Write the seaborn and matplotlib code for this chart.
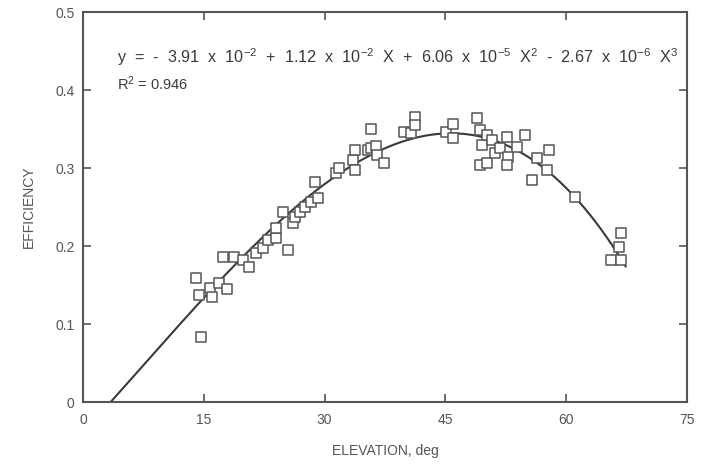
import numpy as np
import pandas as pd
import matplotlib
matplotlib.use("Agg")
import matplotlib.pyplot as plt
import seaborn as sns

# Measured points (elevation deg, efficiency)
elevation = [14.0, 14.7, 14.4, 15.8, 16.0, 16.9, 17.9, 17.4, 18.8, 19.9,
             20.6, 21.5, 22.4, 23.0, 24.0, 24.0, 24.8, 25.5, 26.1, 26.3,
             27.0, 27.6, 28.3, 28.8, 29.2, 31.4, 31.8, 33.5, 33.8, 33.8,
             35.4, 35.7, 35.8, 36.4, 36.5, 37.4, 39.8, 40.7, 41.2, 41.2,
             45.1, 46.0, 46.0, 48.9, 49.3, 49.6, 50.2, 50.8, 49.3, 50.2,
             51.2, 51.8, 52.7, 52.8, 52.7, 53.9, 54.9, 56.4, 57.9, 55.8,
             57.6, 61.1, 66.8, 66.6, 65.6, 66.8]
efficiency = [0.159, 0.083, 0.137, 0.146, 0.135, 0.153, 0.145, 0.186, 0.186, 0.182,
              0.173, 0.191, 0.197, 0.208, 0.210, 0.223, 0.244, 0.195, 0.229, 0.237,
              0.244, 0.250, 0.256, 0.282, 0.262, 0.294, 0.300, 0.310, 0.323, 0.297,
              0.323, 0.350, 0.326, 0.328, 0.317, 0.306, 0.346, 0.345, 0.365, 0.355,
              0.346, 0.356, 0.338, 0.364, 0.349, 0.329, 0.342, 0.336, 0.304, 0.306,
              0.319, 0.326, 0.340, 0.314, 0.304, 0.327, 0.342, 0.313, 0.323, 0.285,
              0.297, 0.263, 0.217, 0.199, 0.182, 0.182]

# Fit coefficients printed on the chart (constant, X, X^2, X^3)
fit_coeffs = [-3.91e-2, 1.12e-2, 6.06e-5, -2.67e-6]
fit_range = [3.48, 67.4]
r_squared = 0.946

x_ticks = [0, 15, 30, 45, 60, 75]
y_ticks = [0, 0.1, 0.2, 0.3, 0.4, 0.5]
y_ticklabels = ["0", "0.1", "0.2", "0.3", "0.4", "0.5"]

sns.set_theme(style="white")
plt.rcParams['font.family'] = ['Liberation Sans', 'DejaVu Sans']
plt.rcParams['mathtext.fontset'] = 'custom'
plt.rcParams['mathtext.rm'] = 'Liberation Sans'
plt.rcParams['mathtext.it'] = 'Liberation Sans'
plt.rcParams['mathtext.default'] = 'regular'

grey = "#555555"
dark = "#3a3a3a"

fig = plt.figure(figsize=(7.02, 4.66), dpi=100)
ax = fig.add_axes([83/702, 64/466, (687-83)/702, (402-12)/466])

df = pd.DataFrame({"elevation": elevation, "efficiency": efficiency})
xfit = np.linspace(fit_range[0], fit_range[1], 300)
yfit = np.polyval(fit_coeffs[::-1], xfit)
fit_df = pd.DataFrame({"x": xfit, "y": yfit})

sns.lineplot(data=fit_df, x="x", y="y", ax=ax, color=dark, linewidth=1.5, zorder=2)
sns.scatterplot(data=df, x="elevation", y="efficiency", ax=ax, marker="s",
                s=42, facecolor="white", edgecolor=grey, linewidth=1.1, zorder=3)

ax.set_xlim(0, 75)
ax.set_ylim(0, 0.5)
ax.set_xticks(x_ticks)
ax.set_yticks(y_ticks)
ax.set_yticklabels(y_ticklabels)
ax.tick_params(direction="in", length=6, width=1.2, color=grey, labelcolor=grey,
               labelsize=10, top=True, right=True, bottom=True, left=True, pad=6)
ax.tick_params(axis="x", pad=8)
for s in ax.spines.values():
    s.set_color(grey)
    s.set_linewidth(1.5)

ax.set_xlabel("ELEVATION, deg", color=grey, fontsize=10, labelpad=12)
ax.set_ylabel("EFFICIENCY", color=grey, fontsize=10, labelpad=14)

eq = (r"y  =  -  3.91  x  10$^{-2}$  +  1.12  x  10$^{-2}$  X  +  6.06  x  10$^{-5}$  X$^{2}$"
      r"  -  2.67  x  10$^{-6}$  X$^{3}$")
ax.text(4.2, 0.442, eq, color=dark, fontsize=11.7, va="center", ha="left")
ax.text(4.2, 0.408, r"R$^{2}$ = " + f"{r_squared:.3f}", color=dark, fontsize=10.5,
        va="center", ha="left")

fig.savefig("out.png", dpi=100)
